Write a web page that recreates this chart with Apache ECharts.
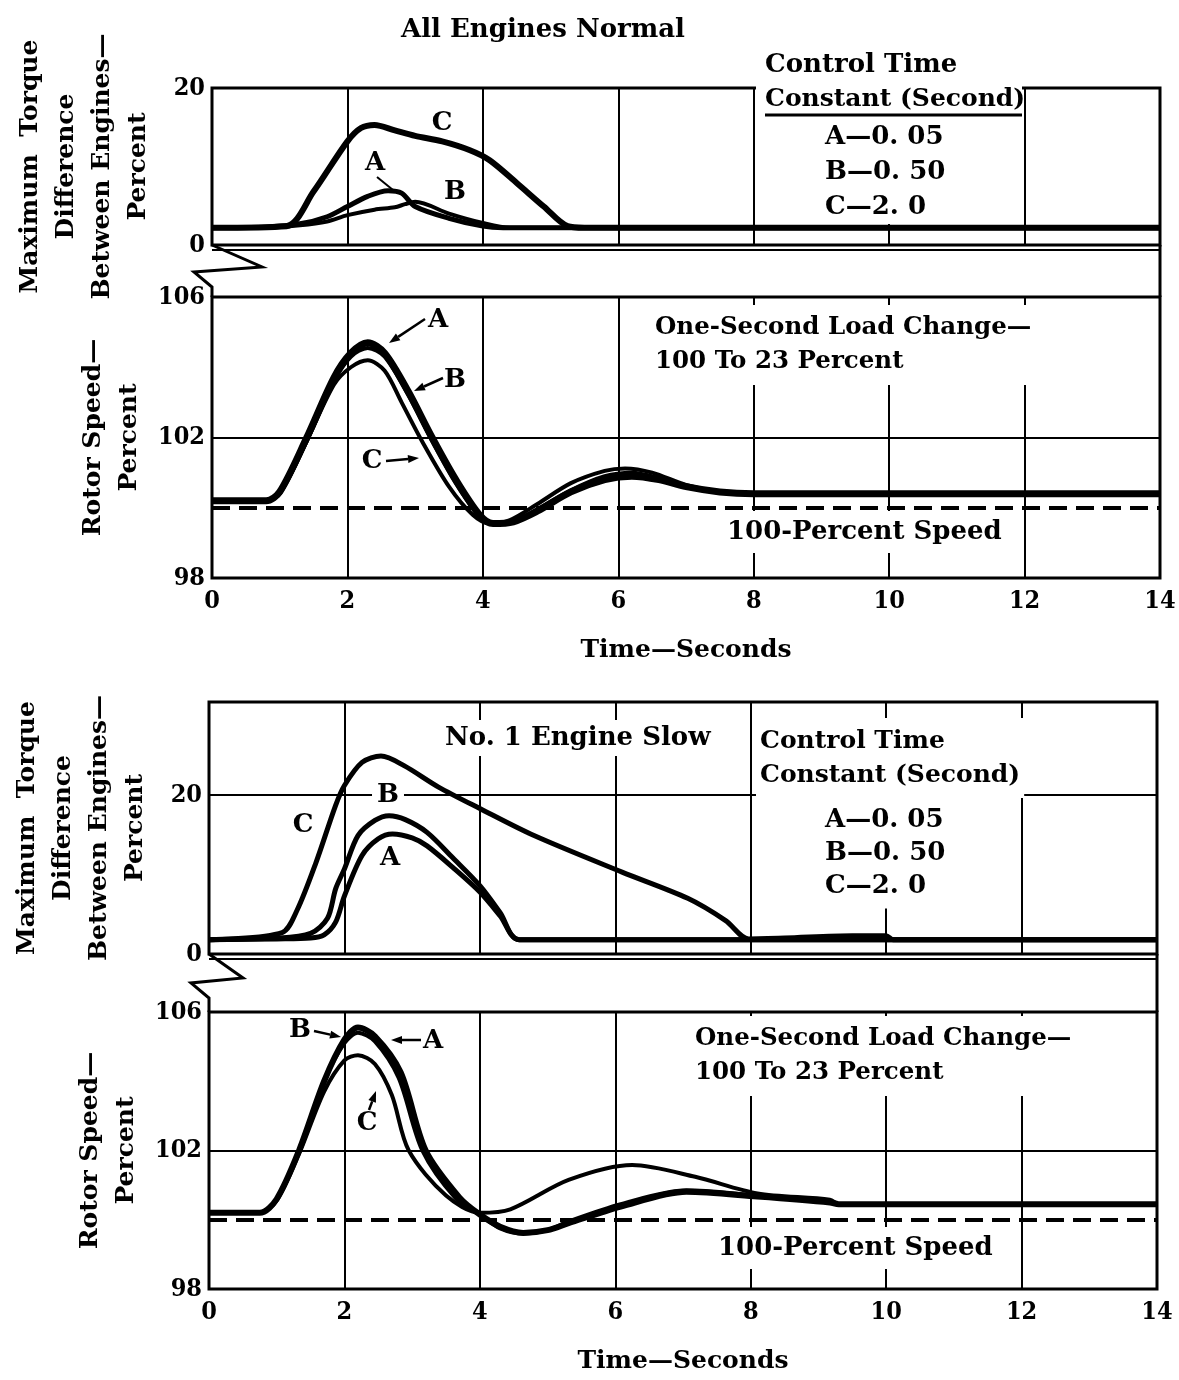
<!DOCTYPE html>
<html>
<head>
<meta charset="utf-8">
<title>Torque difference and rotor speed response</title>
<script src="https://cdn.jsdelivr.net/npm/echarts@6/dist/echarts.min.js"></script>
<style>
  html, body { margin: 0; padding: 0; background: #fff; }
  #chart { width: 1179px; height: 1380px; }
</style>
</head>
<body>
<div id="chart"></div>
<script>
// time axis (seconds)
var timeMin = 0, timeMax = 14, timeStep = 2;
var speedRef = 100; // 100-percent speed line

// --- All engines normal: max torque difference (percent) [t, value]
var torqueNormalA = [[0,2.2],[0.8,2.3],[1.3,2.7],[1.7,3.6],[2.0,4.9],[2.3,6.2],[2.6,6.9],[2.8,6.6],[3.0,4.9],[3.5,3.4],[4.0,2.4],[4.3,2.2],[14,2.2]];
var torqueNormalB = [[0,2.2],[0.8,2.2],[1.3,2.5],[1.7,3.0],[2.0,3.8],[2.4,4.5],[2.7,4.8],[2.85,5.2],[3.0,5.5],[3.5,4.0],[4.0,2.8],[4.4,2.2],[14,2.2]];
var torqueNormalC = [[0,2.2],[1.1,2.4],[1.5,6.8],[2.0,13.2],[2.2,14.9],[2.4,15.3],[2.7,14.6],[3.0,13.9],[3.4,13.2],[3.8,12.1],[4.1,10.8],[4.5,7.9],[4.9,4.9],[5.25,2.4],[5.5,2.2],[14,2.2]];

// --- All engines normal: rotor speed (percent)
var speedNormalA = [[0,100.2],[0.8,100.2],[1.0,100.45],[1.4,102.0],[1.8,103.7],[2.05,104.4],[2.3,104.7],[2.55,104.4],[2.9,103.3],[3.25,102.0],[3.6,100.8],[3.95,99.8],[4.15,99.55],[4.45,99.6],[4.8,99.9],[5.3,100.45],[5.8,100.8],[6.2,100.9],[6.6,100.8],[7.0,100.6],[7.5,100.45],[8,100.4],[14,100.4]];
var speedNormalB = [[0,100.2],[0.8,100.2],[1.0,100.4],[1.4,101.9],[1.8,103.6],[2.05,104.3],[2.3,104.55],[2.55,104.3],[2.9,103.2],[3.25,101.9],[3.6,100.7],[3.95,99.75],[4.15,99.55],[4.45,99.6],[4.8,99.95],[5.3,100.5],[5.8,100.9],[6.2,101.0],[6.6,100.85],[7.0,100.6],[7.5,100.45],[8,100.4],[14,100.4]];
var speedNormalC = [[0,100.2],[0.8,100.2],[1.0,100.4],[1.4,101.9],[1.8,103.5],[2.05,104.0],[2.3,104.2],[2.55,103.9],[2.8,103.0],[3.1,101.9],[3.5,100.6],[3.85,99.8],[4.1,99.55],[4.4,99.65],[4.8,100.1],[5.3,100.7],[5.8,101.05],[6.1,101.12],[6.5,101.0],[7.0,100.65],[7.5,100.45],[8,100.4],[14,100.4]];

// --- No. 1 engine slow: max torque difference (percent)
var torqueSlowA = [[0,1.8],[1.0,1.9],[1.5,2.0],[1.7,2.4],[1.87,4.0],[2.0,7.3],[2.26,12.4],[2.5,14.5],[2.71,15.1],[3.0,14.6],[3.22,13.6],[3.6,10.9],[4.0,7.8],[4.3,4.8],[4.58,1.8],[14,1.8]];
var torqueSlowB = [[0,1.8],[1.0,2.0],[1.5,2.6],[1.75,4.5],[1.87,8.2],[2.0,10.7],[2.2,14.9],[2.45,16.8],[2.66,17.4],[2.9,16.9],[3.22,15.3],[3.6,12.1],[4.0,8.6],[4.3,5.2],[4.58,1.8],[14,1.8]];
var torqueSlowC = [[0,1.8],[1.08,2.7],[1.3,5.5],[1.58,11.5],[1.87,18.7],[2.0,21.2],[2.26,24.1],[2.54,24.9],[2.88,23.7],[3.39,21.0],[4.0,18.3],[4.8,14.9],[6.1,10.3],[7.07,7.0],[7.63,4.2],[7.97,1.9],[8.5,2.0],[9.5,2.3],[10.0,2.3],[10.1,1.8],[14,1.8]];

// --- No. 1 engine slow: rotor speed (percent)
var speedSlowA = [[0,100.2],[0.75,100.2],[1.0,100.6],[1.33,102.0],[1.7,104.0],[2.0,105.2],[2.2,105.55],[2.45,105.3],[2.83,104.26],[3.2,102.0],[3.7,100.64],[4.0,100.15],[4.3,99.8],[4.64,99.62],[5.0,99.7],[5.31,99.9],[6.08,100.38],[7.05,100.81],[8.1,100.67],[9.17,100.5],[9.3,100.45],[14,100.45]];
var speedSlowB = [[0,100.2],[0.75,100.2],[1.0,100.6],[1.33,102.0],[1.7,104.0],[2.0,105.1],[2.2,105.4],[2.45,105.15],[2.8,104.1],[3.15,102.0],[3.65,100.6],[4.0,100.15],[4.3,99.75],[4.64,99.6],[5.0,99.7],[5.31,99.95],[6.08,100.45],[7.05,100.85],[8.1,100.7],[9.17,100.55],[9.3,100.45],[14,100.45]];
var speedSlowC = [[0,100.2],[0.75,100.2],[1.0,100.55],[1.33,101.9],[1.7,103.7],[2.0,104.6],[2.2,104.75],[2.45,104.5],[2.7,103.6],[2.95,102.0],[3.5,100.7],[4.0,100.2],[4.45,100.3],[5.31,101.15],[6.25,101.58],[7.18,101.24],[8.1,100.76],[9.17,100.58],[9.3,100.45],[14,100.45]];

var FONT = '"DejaVu Serif", serif';
var NUMFONT = '"DejaVu Serif Condensed", "DejaVu Serif", serif';

var chart = echarts.init(document.getElementById('chart'));

// grids: torque / speed, top group then bottom group
var grids = [
    {left: 212, top: 88, width: 948, height: 157},
    {left: 212, top: 297, width: 948, height: 281},
    {left: 209, top: 702, width: 948, height: 252},
    {left: 209, top: 1012, width: 948, height: 277}
];

function xAx(i, withLabels) {
    return {
        gridIndex: i, type: 'value', min: timeMin, max: timeMax, interval: timeStep,
        axisLine: {show: false}, axisTick: {show: false},
        splitLine: {show: true, lineStyle: {color: '#000', width: 2}},
        axisLabel: {show: withLabels, margin: 11, color: '#000', fontSize: 25, fontWeight: 'bold', fontFamily: NUMFONT},
        name: withLabels ? 'Time\u2014Seconds' : '',
        nameLocation: 'middle', nameGap: 60,
        nameTextStyle: {color: '#000', fontSize: 25, fontWeight: 'bold', fontFamily: FONT}
    };
}

function yAx(i, min, max, interval, name) {
    return {
        gridIndex: i, type: 'value', min: min, max: max, interval: interval,
        axisLine: {show: false}, axisTick: {show: false},
        splitLine: {show: true, lineStyle: {color: '#000', width: 2}},
        axisLabel: {margin: 7, color: '#000', fontSize: 25, fontWeight: 'bold', fontFamily: NUMFONT, showMaxLabel: max % interval === 0 || max > 100},
        name: name, nameLocation: 'middle', nameGap: 56, nameRotate: 90,
        nameTextStyle: {color: '#000', fontSize: 25, fontWeight: 'bold', fontFamily: FONT, lineHeight: 36, align: 'center'}
    };
}

function curve(data, xi, width, extra) {
    var s = {
        type: 'line', xAxisIndex: xi, yAxisIndex: xi, data: data,
        showSymbol: false, smooth: 0.3, z: 3,
        lineStyle: {color: '#000', width: width}
    };
    if (extra) s.markLine = extra;
    return s;
}

var refLine = {
    silent: true, symbol: 'none', label: {show: false},
    lineStyle: {color: '#000', width: 4, type: [18, 9]},
    data: [{yAxis: speedRef}]
};

var torqueName = 'Maximum  Torque\nDifference\nBetween Engines\u2014\nPercent';
var speedName = 'Rotor Speed\u2014\nPercent';

// annotation helpers (pixel positions)
function txt(s, x, y, opts) {
    opts = opts || {};
    return {
        type: 'text', z: 120,
        style: {
            text: s, x: x, y: y, fill: '#000',
            font: 'bold ' + (opts.size || 26) + 'px ' + FONT,
            textAlign: opts.align || 'center', textVerticalAlign: 'middle',
            lineHeight: opts.lh || 34,
            backgroundColor: opts.bg ? '#fff' : null,
            padding: opts.bg ? (opts.pad || [2, 4]) : 0
        }
    };
}
function seg(x1, y1, x2, y2, w) {
    return {type: 'line', z: 120, shape: {x1: x1, y1: y1, x2: x2, y2: y2}, style: {stroke: '#000', lineWidth: w || 2}};
}
function arrow(x1, y1, x2, y2) {
    var dx = x2 - x1, dy = y2 - y1, L = Math.sqrt(dx * dx + dy * dy);
    var ux = dx / L, uy = dy / L, hl = 11, hw = 4;
    var bx = x2 - ux * hl, by = y2 - uy * hl;
    return [seg(x1, y1, bx, by, 2.5), {
        type: 'polygon', z: 120,
        shape: {points: [[x2, y2], [bx - uy * hw, by + ux * hw], [bx + uy * hw, by - ux * hw]]},
        style: {fill: '#000'}
    }];
}
function strip(left, right, y0, y1, zx, zy) {
    // broken-axis strip between torque and speed panels
    return [
        {type: 'polyline', z: 110, shape: {points: [[left, y0], [left + zx, y0 + zy], [left - 18, y0 + zy + 5], [left, y0 + zy + 20], [left, y1]]},
         style: {stroke: '#000', lineWidth: 3, fill: null}},
        seg(right, y0, right, y1, 3),
        seg(left, y0 + 5, right, y0 + 5, 2)
    ];
}

var graphics = [];
graphics.push(txt('All Engines Normal', 543, 30));
// top torque legend block
graphics.push({type: 'rect', z: 105, shape: {x: 756, y: 85, width: 266, height: 139}, style: {fill: '#fff'}});
graphics.push(txt('Control Time', 765, 65, {align: 'left'}));
graphics.push(txt('Constant (Second)', 765, 99, {align: 'left', size: 25}));
graphics.push(seg(765, 115, 1022, 115, 3));
graphics.push(txt('A\u20140. 05\nB\u20140. 50\nC\u20142. 0', 825, 172, {align: 'left', lh: 35}));
// top torque curve labels
graphics.push(txt('C', 442, 123), txt('A', 375, 163), txt('B', 455, 192));
graphics.push(seg(377, 177, 393, 190, 2));
// top speed
graphics.push(txt('A', 438, 320), txt('B', 455, 380), txt('C', 372, 461));
graphics = graphics.concat(arrow(425, 319, 389, 343), arrow(443, 378, 414, 391), arrow(386, 461, 419, 458));
graphics.push(txt('One-Second Load Change\u2014\n100 To 23 Percent', 648, 345, {align: 'left', size: 24.5, bg: true, pad: [6, 7]}));
graphics.push(txt('100-Percent Speed', 722, 532, {align: 'left', bg: true, pad: [4, 5]}));
graphics = graphics.concat(strip(212, 1160, 245, 297, 50, 22));

// bottom torque
graphics.push(txt('No. 1 Engine Slow', 440, 738, {align: 'left', bg: true, pad: [1, 5]}));
graphics.push(txt('Control Time\nConstant (Second)', 756, 758, {align: 'left', size: 25, bg: true, pad: [6, 4]}));
graphics.push(txt('A\u20140. 05\nB\u20140. 50\nC\u20142. 0', 820, 853, {align: 'left', lh: 33, bg: true, pad: [6, 5]}));
graphics.push(txt('C', 303, 825), txt('B', 388, 795, {bg: true, pad: [0, 5]}), txt('A', 390, 858));
graphics = graphics.concat(strip(209, 1157, 954, 1012, 34, 24));

// bottom speed
graphics.push(txt('B', 300, 1030), txt('A', 433, 1041), txt('C', 367, 1123));
graphics = graphics.concat(arrow(314, 1031, 341, 1037), arrow(421, 1040, 391, 1040), arrow(369, 1110, 376, 1091));
graphics.push(txt('One-Second Load Change\u2014\n100 To 23 Percent', 688, 1056, {align: 'left', size: 24.5, bg: true, pad: [6, 7]}));
graphics.push(txt('100-Percent Speed', 713, 1248, {align: 'left', bg: true, pad: [4, 5]}));

var option = {
    animation: false,
    backgroundColor: '#fff',
    grid: grids.map(function (g) {
        return {left: g.left, top: g.top, width: g.width, height: g.height, show: true,
                borderColor: '#000', borderWidth: 3, backgroundColor: 'transparent'};
    }),
    xAxis: [xAx(0, false), xAx(1, true), xAx(2, false), xAx(3, true)],
    yAxis: [
        yAx(0, 0, 20, 20, torqueName),
        yAx(1, 98, 106, 4, speedName),
        yAx(2, 0, 31.7, 20, torqueName),
        yAx(3, 98, 106, 4, speedName)
    ],
    series: [
        curve(torqueNormalA, 0, 5), curve(torqueNormalB, 0, 4), curve(torqueNormalC, 0, 6),
        curve(speedNormalA, 1, 7, refLine), curve(speedNormalB, 1, 4), curve(speedNormalC, 1, 4),
        curve(torqueSlowA, 2, 5), curve(torqueSlowB, 2, 5), curve(torqueSlowC, 2, 5),
        curve(speedSlowA, 3, 6, refLine), curve(speedSlowB, 3, 4), curve(speedSlowC, 3, 4)
    ],
    graphic: graphics
};
chart.setOption(option);
</script>
</body>
</html>
